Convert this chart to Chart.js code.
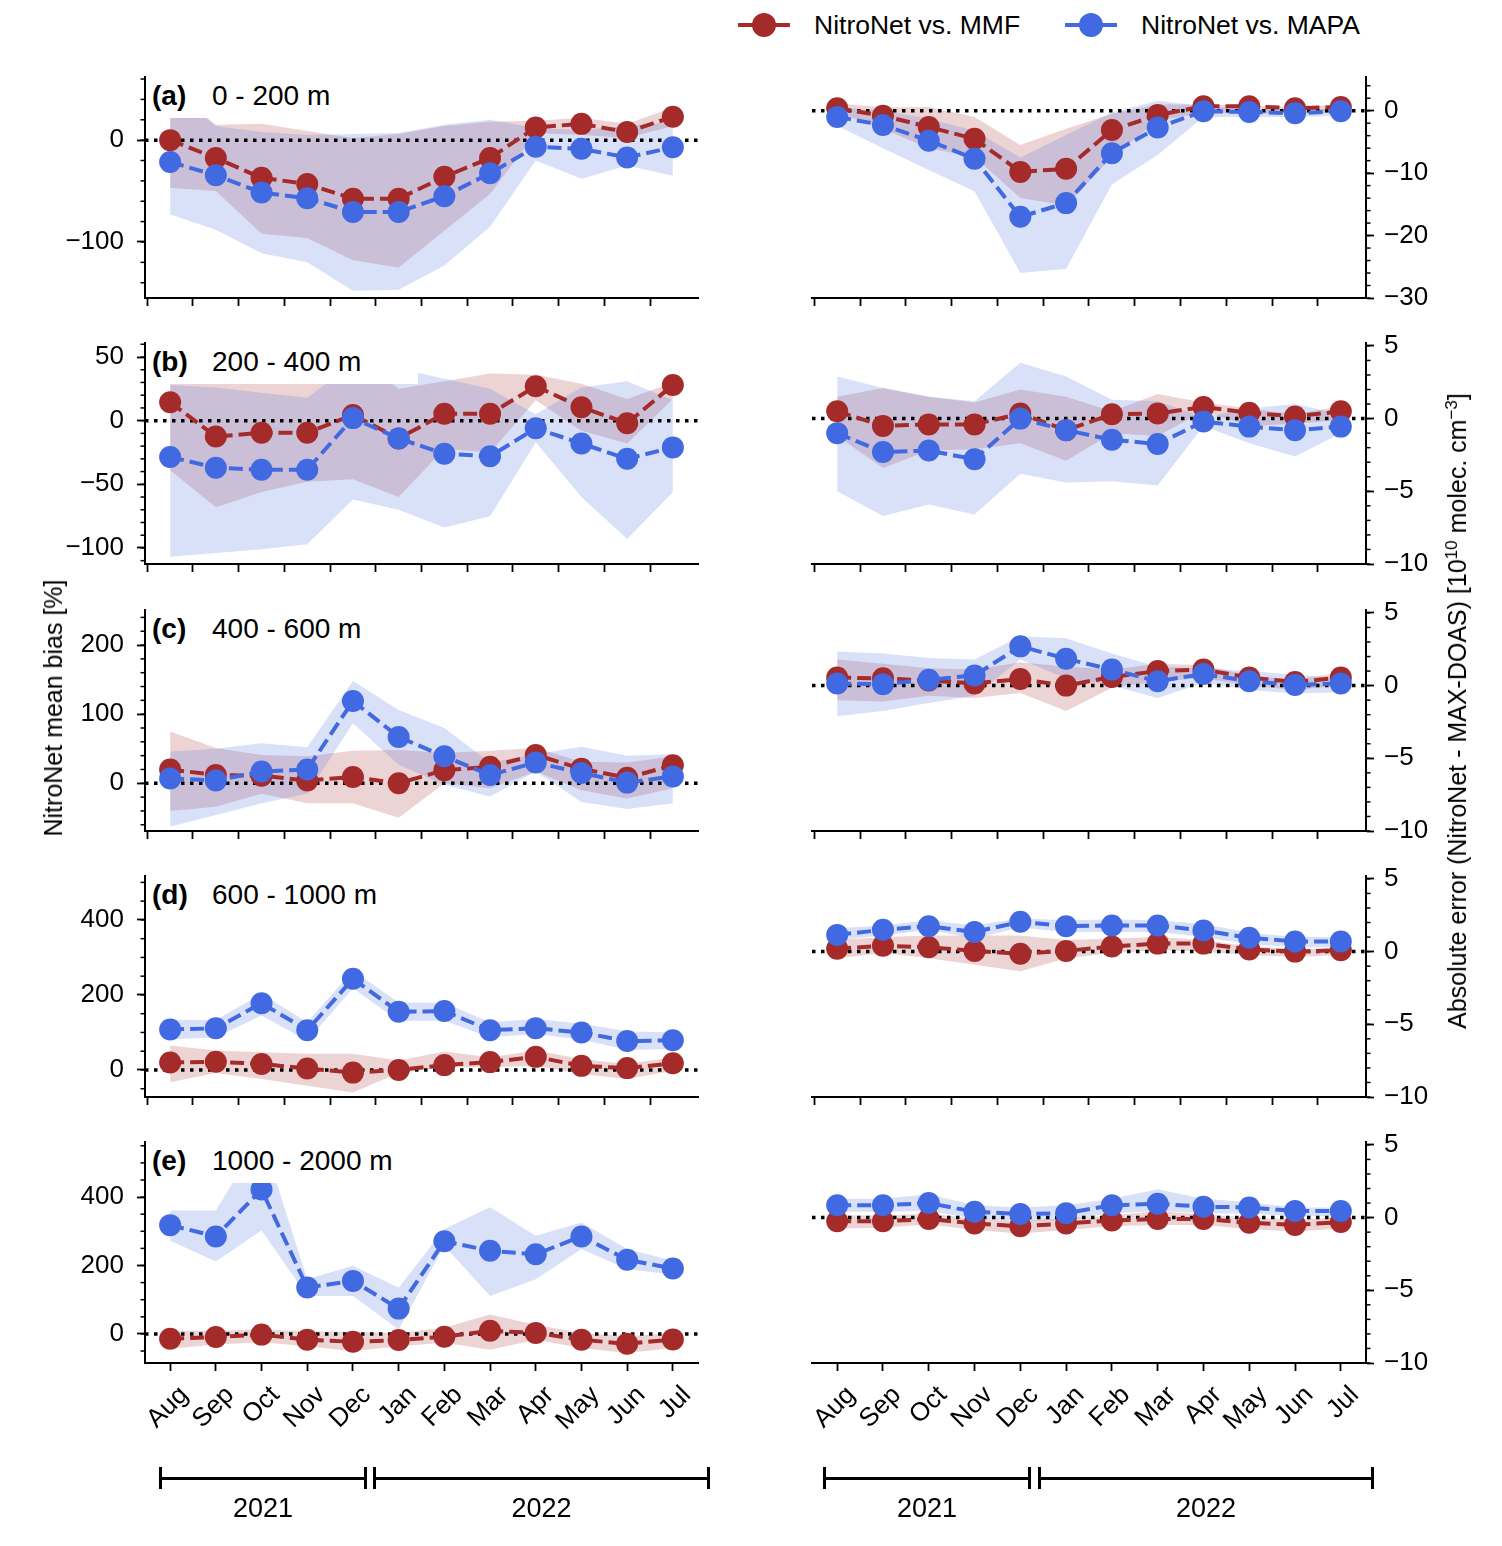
<!DOCTYPE html>
<html>
<head>
<meta charset="utf-8">
<script src="https://cdn.jsdelivr.net/npm/chart.js@4.4.1/dist/chart.umd.min.js"></script>
<style>
  html, body { margin: 0; padding: 0; background: #fff; }
  #fig { position: relative; width: 1502px; height: 1546px; font-family: "Liberation Sans", Arial, sans-serif; color: #000; overflow: hidden; }
  .panel { position: absolute; }
  .tag { position: absolute; background: #fff; height: 41px; z-index: 5; }
  .tag b, .tag span { position: absolute; top: 3px; font-size: 28px; line-height: 32px; white-space: nowrap; }
  .tag b { left: 5px; }
  .tag span { left: 65px; }
  .ytitle { position: absolute; transform: translate(-50%, -50%) rotate(-90deg); font-size: 25px; white-space: nowrap; line-height: 30px; }
  .ytitle sup { font-size: 17px; line-height: 0; }
  .leg-line { position: absolute; height: 4px; }
  .leg-dot { position: absolute; width: 24px; height: 24px; border-radius: 50%; }
  .leg-text { position: absolute; font-size: 26.5px; line-height: 30px; white-space: nowrap; }
  .yr-line { position: absolute; height: 3px; background: #000; }
  .yr-cap { position: absolute; width: 3px; height: 22px; background: #000; }
  .yr-text { position: absolute; font-size: 27px; line-height: 30px; transform: translateX(-50%); }
</style>
</head>
<body>
<div id="fig"></div>
<script>
// months on the x axis (Aug 2021 - Jul 2022)
const months = ['Aug', 'Sep', 'Oct', 'Nov', 'Dec', 'Jan', 'Feb', 'Mar', 'Apr', 'May', 'Jun', 'Jul'];
const rowTags = ['(a)', '(b)', '(c)', '(d)', '(e)'];
const rowRanges = ['0 - 200 m', '200 - 400 m', '400 - 600 m', '600 - 1000 m', '1000 - 2000 m'];

// mean bias [%], rows a-e
const biasMMF = [
  [0, -17.5, -37, -43, -57.5, -57.5, -36, -17.5, 12.5, 16, 8, 23],
  [14.5, -12.5, -9.5, -9.5, 4.5, -14, 5.5, 5.5, 27, 10.5, -2, 28],
  [20, 12, 11, 4, 9, 0, 19, 24, 41, 21, 8, 26],
  [20, 22, 16, 4, -7, 0, 13, 21, 35, 11, 5, 18],
  [-14, -9, -2, -17, -23, -18, -8, 9, 3, -17, -29, -16]
];
const biasMMFLow = [
  [-47, -50, -92, -96, -118, -125, -89, -53, 7, 5, 2, 14],
  [-39, -68, -56, -48, -46, -60, -22, -25, 16, -8, -18, 17],
  [-40, -34, -15, -29, -29, -50, 0, -7, 17, -10, -22, -7],
  [-33, -8, -24, -42, -60, -8, 7, 7, 11, -11, -24, -2],
  [-43, -31, -24, -36, -51, -36, -26, -46, -17, -41, -56, -41]
];
const biasMMFHigh = [
  [52, 15, 16, 9, 2, 6, 14, 18, 19, 22, 16, 32],
  [40, 38, 34, 30, 52, 25, 31, 37, 36, 29, 17, 30],
  [75, 51, 41, 39, 47, 48, 44, 47, 51, 31, 30, 39],
  [65, 52, 47, 43, 43, 25, 49, 34, 52, 29, 16, 34],
  [8, 10, 13, 8, 6, 3, 18, 57, 27, 3, -7, 3]
];
const biasMAPA = [
  [-21.5, -34.5, -51.5, -57, -70.5, -70.5, -55, -32.5, -6.5, -8.5, -17, -7],
  [-28.5, -37, -38.5, -38.5, 2, -14, -26, -28, -6, -18, -30, -21],
  [7, 4, 17, 20, 119, 67, 39, 12, 30, 15, 1, 10],
  [108, 111, 178, 106, 243, 155, 157, 106, 111, 100, 77, 79],
  [318, 285, 422, 136, 155, 74, 271, 243, 233, 285, 217, 191]
];
const biasMAPALow = [
  [-73, -88, -111, -120, -148, -147, -123, -85, -20, -38, -25, -35],
  [-107, -104, -101, -97, -62, -70, -84, -75, -17, -60, -93, -56],
  [-63, -46, -29, -15, 87, 27, -2, -19, 17, -27, -37, -29],
  [81, 87, 145, 78, 218, 131, 131, 87, 96, 81, 53, 56],
  [272, 212, 302, 111, 111, 13, 258, 111, 160, 248, 189, 174]
];
const biasMAPAHigh = [
  [50, 14, 8, 5, 6, 7, 15, 20, 12, 10, 14, 18],
  [28, 26, 22, 18, 45, 41, 33, 25, 5, 26, 31, 16],
  [46, 50, 58, 52, 148, 106, 80, 30, 42, 53, 40, 42],
  [134, 133, 203, 127, 265, 180, 179, 127, 136, 123, 103, 100],
  [361, 361, 580, 160, 199, 135, 307, 370, 287, 326, 248, 214]
];

// absolute error [1e10 molec. cm-3], rows a-e
const absMMF = [
  [0.4, -0.8, -2.6, -4.5, -9.8, -9.3, -3.1, -0.7, 0.7, 0.7, 0.4, 0.6],
  [0.5, -0.5, -0.4, -0.4, 0.35, -0.8, 0.3, 0.35, 0.8, 0.4, 0.15, 0.5],
  [0.55, 0.5, 0.35, 0.15, 0.45, 0, 0.6, 1, 1.1, 0.55, 0.25, 0.55],
  [0.2, 0.4, 0.3, 0.05, -0.15, 0.05, 0.35, 0.55, 0.55, 0.15, 0, 0.1],
  [-0.25, -0.25, -0.1, -0.4, -0.6, -0.4, -0.2, -0.1, -0.1, -0.35, -0.5, -0.3]
];
const absMMFLow = [
  [-0.3, -2.9, -6, -7.4, -14, -15.2, -7.4, -1.6, -0.3, -0.5, -0.5, -0.3],
  [-1.2, -3.4, -2.2, -2.1, -1.7, -2.9, -1, -1.2, 0.5, -0.5, -0.35, -0.1],
  [-1, -1.1, -0.7, -0.85, -0.5, -1.75, -0.15, 0.3, 0.5, 0, -0.3, 0],
  [-0.45, -0.1, -0.45, -0.9, -1.35, -0.45, -0.1, 0.1, 0, -0.25, -0.35, -0.25],
  [-0.75, -0.7, -0.45, -0.85, -1.1, -0.85, -0.6, -0.5, -0.5, -0.8, -0.95, -0.75]
];
const absMMFHigh = [
  [1.2, 0.5, 0.6, -1, -5.5, -2.9, -0.5, 1, 1, 0.8, 0.6, 1],
  [1.5, 2.1, 1.5, 1.1, 2, 1.5, 0.5, 1.7, 1.1, 0.7, 0.3, 0.85],
  [1.8, 1.5, 1.2, 1.1, 1.6, 1.3, 1.1, 1.5, 1.4, 0.7, 0.4, 0.9],
  [0.8, 1, 1.1, 1.1, 1.1, 0.8, 0.9, 1, 0.8, 0.35, 0.2, 0.2],
  [0.15, 0.15, 0.27, -0.07, -0.22, -0.07, 0.15, 0.45, 0.22, 0, -0.13, 0]
];
const absMAPA = [
  [-1, -2.3, -4.8, -7.7, -17, -14.8, -6.8, -2.7, -0.1, -0.2, -0.4, -0.1],
  [-1, -2.3, -2.2, -2.8, 0, -0.8, -1.45, -1.75, -0.2, -0.55, -0.8, -0.55],
  [0.15, 0.1, 0.4, 0.7, 2.7, 1.85, 1.1, 0.3, 0.8, 0.3, 0.05, 0.15],
  [1.15, 1.5, 1.75, 1.35, 2.05, 1.75, 1.8, 1.8, 1.45, 0.95, 0.7, 0.7],
  [0.85, 0.85, 1.0, 0.4, 0.25, 0.3, 0.85, 0.95, 0.75, 0.7, 0.45, 0.45]
];
const absMAPALow = [
  [-2.4, -6, -9.5, -12.9, -26, -25.3, -11.8, -7.1, -1, -1, -1, -0.8],
  [-5, -6.7, -5.9, -6.6, -3.8, -4.4, -4.3, -4.6, -0.5, -1.7, -2.6, -1],
  [-2.1, -1.75, -1.2, -0.7, 1.8, 0.5, 0, -0.85, 0.2, -0.3, -0.55, -0.45],
  [0.8, 1.1, 1.5, 0.9, 1.65, 1.35, 1.35, 1.35, 1, 0.5, 0.3, 0.3],
  [0.4, 0.4, 0.45, -0.07, -0.22, -0.18, 0.3, 0.45, 0.3, 0.27, 0.1, 0.1]
];
const absMAPAHigh = [
  [0.5, 0, -1.3, -3.2, -7.5, -3.9, -0.3, 1.6, 0.7, 0.3, 0.3, 0.3],
  [2.9, 2.1, 1.5, 1.2, 3.85, 2.9, 1.3, 1.2, 0.1, 0.7, 1, 0.3],
  [2.35, 2.2, 1.9, 1.8, 3.4, 3.25, 2.2, 1.3, 1.2, 1, 0.75, 0.5],
  [1.6, 1.8, 2.15, 1.8, 2.3, 2.15, 2.2, 2.15, 1.9, 1.3, 1, 1],
  [1.3, 1.3, 1.6, 0.85, 0.7, 0.85, 1.3, 1.95, 1.3, 1.05, 0.7, 0.7]
];

// axis settings
const biasLimits = [[-155, 62], [-112.6, 61], [-69, 250.7], [-72, 517], [-85, 561]];
const biasTicks = [[-100, 0], [-100, -50, 0, 50], [0, 100, 200], [0, 200, 400], [0, 200, 400]];
const biasMinor = [20, 10, 20, 50, 50];
const absLimits = [[-30, 5.4], [-10, 5.2], [-10, 5.2], [-10, 5.2], [-10, 5.2]];
const absTicks = [[-30, -20, -10, 0], [-10, -5, 0, 5], [-10, -5, 0, 5], [-10, -5, 0, 5], [-10, -5, 0, 5]];
const absMinor = [2, 1, 1, 1, 1];

const RED = '#a52a2a', BLUE = '#4169e1';
const RED_BAND = 'rgba(165, 42, 42, 0.2)', BLUE_BAND = 'rgba(65, 105, 225, 0.2)';

const fig = document.getElementById('fig');
const rowTop = r => Math.round(77 + 266.3 * r);
const plotH = 221;

Chart.defaults.font.family = '"Liberation Sans", Arial, sans-serif';
Chart.defaults.font.size = 26;
Chart.defaults.color = '#000';

// minor y ticks drawn through the y scale
Chart.register({
  id: 'minorTicks',
  afterDraw(chart, args, o) {
    if (!o.step) return;
    const s = chart.scales.y, ctx = chart.ctx;
    const left = s.position === 'left';
    const x0 = left ? s.right : s.left;
    ctx.save();
    ctx.strokeStyle = '#000';
    ctx.lineWidth = 1.5;
    for (let k = Math.ceil(s.min / o.step); k * o.step <= s.max + 1e-9; k++) {
      const y = s.getPixelForValue(k * o.step);
      ctx.beginPath();
      ctx.moveTo(x0, y);
      ctx.lineTo(x0 + (left ? -o.len : o.len), y);
      ctx.stroke();
    }
    ctx.restore();
  }
});

function pts(vals) {
  return vals.map((v, i) => ({ x: i, y: v }));
}

function makePanel(side, r) {
  const isLeft = side === 'left';
  const bottom = r === 4;
  const padTop = 20;
  const xH = bottom ? 120 : 16;
  const w = isLeft ? 720 : 712;
  const h = padTop + plotH + xH;
  const wrap = document.createElement('div');
  wrap.className = 'panel';
  wrap.style.left = (isLeft ? 0 : 790) + 'px';
  wrap.style.top = (rowTop(r) - padTop) + 'px';
  wrap.style.width = w + 'px';
  wrap.style.height = h + 'px';
  const cv = document.createElement('canvas');
  cv.style.width = w + 'px';
  cv.style.height = h + 'px';
  cv.width = w; cv.height = h;
  wrap.appendChild(cv);
  fig.appendChild(wrap);

  const mmf = isLeft ? biasMMF[r] : absMMF[r];
  const mmfLo = isLeft ? biasMMFLow[r] : absMMFLow[r];
  const mmfHi = isLeft ? biasMMFHigh[r] : absMMFHigh[r];
  const mapa = isLeft ? biasMAPA[r] : absMAPA[r];
  const mapaLo = isLeft ? biasMAPALow[r] : absMAPALow[r];
  const mapaHi = isLeft ? biasMAPAHigh[r] : absMAPAHigh[r];
  const lim = isLeft ? biasLimits[r] : absLimits[r];
  const majors = isLeft ? biasTicks[r] : absTicks[r];
  const minorStep = isLeft ? biasMinor[r] : absMinor[r];

  const band = (vals, fill, color, order) => ({
    data: pts(vals), borderWidth: 0, pointRadius: 0, fill: fill,
    backgroundColor: color, borderColor: 'rgba(0,0,0,0)', order: order
  });
  const line = (vals, color, order) => ({
    data: pts(vals), borderColor: color, backgroundColor: color,
    borderWidth: 4, borderDash: [14, 6], pointRadius: 11, pointBorderWidth: 0,
    pointBackgroundColor: color, fill: false, tension: 0, order: order
  });

  const xTicks = bottom ? months.map((m, i) => i) : months.map((m, i) => i - 0.5);
  const tickGrid = { display: true, drawOnChartArea: false, drawTicks: true, tickLength: 8, tickWidth: 1.8, tickColor: '#000', color: '#000' };
  const border = { display: true, color: '#000', width: 2 };

  new Chart(cv, {
    type: 'line',
    data: {
      datasets: [
        band(mmfLo, false, RED_BAND, 8),
        band(mmfHi, '-1', RED_BAND, 8),
        band(mapaLo, false, BLUE_BAND, 7),
        band(mapaHi, '-1', BLUE_BAND, 7),
        { data: [{ x: -0.55, y: 0 }, { x: 11.55, y: 0 }], borderColor: '#000', borderWidth: 3.5,
          borderDash: [3.5, 5.5], pointRadius: 0, fill: false, order: 3 },
        line(mmf, RED, 2),
        line(mapa, BLUE, 1)
      ]
    },
    options: {
      responsive: false,
      animation: false,
      events: [],
      layout: { padding: { top: padTop, bottom: 0, left: isLeft ? 0 : 22, right: isLeft ? 22 : 0 } },
      plugins: {
        legend: { display: false },
        tooltip: { enabled: false },
        filler: { drawTime: 'beforeDatasetsDraw' },
        minorTicks: { step: minorStep, len: 4.5 }
      },
      scales: {
        x: {
          type: 'linear', min: -0.55, max: 11.55,
          afterBuildTicks: s => { s.ticks = xTicks.map(v => ({ value: v })); },
          afterFit: s => { s.height = xH; s.paddingLeft = 0; s.paddingRight = 0; },
          grid: tickGrid, border: border,
          ticks: {
            display: bottom, autoSkip: false, maxRotation: 45, minRotation: 45,
            padding: 9, labelOffset: 14, font: { size: 26 },
            callback: v => months[Math.round(v)]
          }
        },
        y: {
          position: isLeft ? 'left' : 'right',
          min: lim[0], max: lim[1],
          afterBuildTicks: s => { s.ticks = majors.map(v => ({ value: v })); },
          afterFit: s => { s.width = isLeft ? 145 : 136; s.paddingTop = 0; s.paddingBottom = 0; },
          grid: tickGrid, border: border,
          ticks: {
            padding: isLeft ? 13 : 10, font: { size: 26 },
            callback: v => (v < 0 ? '\u2212' + Math.abs(v) : String(v))
          }
        }
      }
    }
  });

  if (isLeft) {
    const tagW = [236, 271, 270, 287, 301];
    const tag = document.createElement('div');
    tag.className = 'tag';
    tag.style.left = '147px';
    tag.style.top = rowTop(r) + 'px';
    tag.style.width = tagW[r] + 'px';
    tag.innerHTML = '<b>' + rowTags[r] + '</b><span>' + rowRanges[r] + '</span>';
    fig.appendChild(tag);
  }
}

for (let r = 0; r < 5; r++) {
  makePanel('left', r);
  makePanel('right', r);
}

// figure-level decorations
function addDiv(cls, style, html) {
  const d = document.createElement('div');
  d.className = cls;
  Object.assign(d.style, style);
  if (html) d.innerHTML = html;
  fig.appendChild(d);
  return d;
}

// legend
const legendItems = [
  { label: 'NitroNet vs. MMF', color: RED, x: 738 },
  { label: 'NitroNet vs. MAPA', color: BLUE, x: 1065 }
];
legendItems.forEach(it => {
  addDiv('leg-line', { left: it.x + 'px', top: '23px', width: '52px', background: it.color });
  addDiv('leg-dot', { left: (it.x + 14) + 'px', top: '13px', background: it.color });
  addDiv('leg-text', { left: (it.x + 76) + 'px', top: '10px' }, it.label);
});

// axis titles
addDiv('ytitle', { left: '53px', top: '708px' }, 'NitroNet mean bias [%]');
addDiv('ytitle', { left: '1457px', top: '711px' },
  'Absolute error (NitroNet - MAX-DOAS) [10<sup>10</sup> molec. cm<sup>\u22123</sup>]');

// year brackets
const yearSpans = [
  { label: '2021', x1: 160, x2: 366 }, { label: '2022', x1: 374, x2: 709 },
  { label: '2021', x1: 824, x2: 1030 }, { label: '2022', x1: 1039, x2: 1373 }
];
yearSpans.forEach(s => {
  addDiv('yr-line', { left: s.x1 + 'px', top: '1477px', width: (s.x2 - s.x1) + 'px' });
  addDiv('yr-cap', { left: (s.x1 - 1) + 'px', top: '1467px' });
  addDiv('yr-cap', { left: (s.x2 - 2) + 'px', top: '1467px' });
  addDiv('yr-text', { left: ((s.x1 + s.x2) / 2) + 'px', top: '1493px' }, s.label);
});
</script>
</body>
</html>
